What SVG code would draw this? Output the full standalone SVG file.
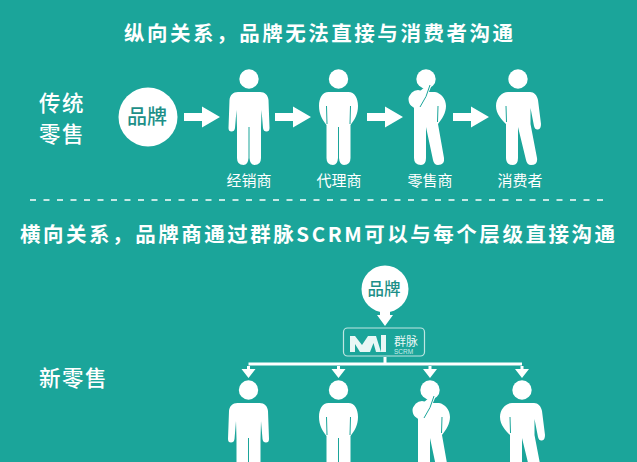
<svg xmlns="http://www.w3.org/2000/svg" width="637" height="462" viewBox="0 0 637 462">
<style>
text{font-family:"Noto Sans CJK SC","Liberation Sans",sans-serif}
.t{font-size:20.500px;font-weight:700;fill:#fff}
.s{font-size:21.500px;font-weight:500;fill:#fff;letter-spacing:1.500px}
.l{font-size:15px;fill:#fff}
.b{fill:#1d8f88;text-anchor:middle}
.w{fill:#fff}
.c{stroke:#fff;stroke-width:3;fill:none}
.slit{stroke:#1ba59a;stroke-width:1;fill:none}
</style>
<defs>
<g id="pA" class="w">
<circle cx="0" cy="79" r="9.700"/>
<path d="M-11 92H11C16 92 19 95 19.500 100L20.500 128Q20.500 131.500 17.500 131.500Q14.500 131.500 14 128L12.500 110L12 128V158Q12 165 5.500 165Q1 165 0.500 158V127H-0.500V158Q-1 165 -5.500 165Q-12 165 -12 158V128L-12.500 110L-14 128Q-14.500 131.500 -17.500 131.500Q-20.500 131.500 -20.500 128L-19.500 100C-19 95 -16 92 -11 92Z"/>
</g>
<g id="pB" class="w">
<circle cx="0" cy="79" r="9.700"/>
<path d="M-10 92H10C16 92 19.500 98 19.500 106C19.500 114 16 120 12 125V158Q12 165 5.500 165Q1 165 0.500 158V127H-0.500V158Q-1 165 -5.500 165Q-12 165 -12 158V125C-16 120 -19.500 114 -19.500 106C-19.500 98 -16 92 -10 92Z"/>
<path class="slit" d="M-12 106L-11.500 124M12 106L11.500 124"/>
</g>
<g id="pC" class="w">
<circle cx="0" cy="79" r="9.700"/>
<path d="M-8 92H9C15 93 20 99 20 106C20 113 16 119 12 124L18 158Q19 165 12 165Q8 165 7 160L0 127V158Q0 165 -5 165Q-12 165 -12 158V108C-12 107 -17.500 106 -17.500 99C-17.500 95 -12 92 -8 92Z"/>
<ellipse class="w" cx="-8" cy="99" rx="9" ry="9"/>
<path class="w" d="M-8 93L2 84L5 87L-3 106Z"/>
<path class="slit" d="M4 85Q1 97 -6 107M12 106L11.500 122"/>
</g>
<g id="pD" class="w">
<circle cx="0" cy="79" r="9.700"/>
<path d="M-10 92H12C16 92 19 95 20 100L23 124Q23 129 20 129.500Q17 130 16 126L12.500 108L12.500 124L19 158Q20 165 13 165Q9 165 8 160L0 127V158Q0 165 -5 165Q-12 165 -12 158V124C-16 120 -22 114 -22 106C-22 98 -16 92 -10 92Z"/>
<path class="slit" d="M-12 106L-11.500 122"/>
</g>
<path id="ar" class="w" d="M0 -4H18V-10.500L36 0L18 10.500V4H0Z"/>
<path id="da" class="w" d="M-1.500 0H1.500V3H7L0 12L-7 3H-1.500Z"/>
</defs>
<rect width="637" height="462" fill="#1ba59a"/>
<text class="t" x="124" y="41" textLength="389">纵向关系，品牌无法直接与消费者沟通</text>
<text class="s" x="39" y="111">传统</text>
<text class="s" x="39" y="142">零售</text>
<text class="t" x="20" y="242" textLength="595">横向关系，品牌商通过群脉SCRM可以与每个层级直接沟通</text>
<text class="s" x="39" y="386">新零售</text>
<g id="connectors">
<use href="#ar" x="184" y="117"/>
<use href="#ar" x="275" y="117"/>
<use href="#ar" x="367" y="117"/>
<use href="#ar" x="453" y="117"/>
<path d="M30 200H608" stroke="#fff" stroke-width="1.500" stroke-dasharray="6 7.500" fill="none"/>
<path class="w" d="M380 310H390V315H393L385 326L377 315H380Z"/>
<path class="c" d="M385 357V364M248.500 364H522"/>
<use href="#da" x="248.500" y="366"/>
<use href="#da" x="338.500" y="366"/>
<use href="#da" x="430" y="366"/>
<use href="#da" x="522" y="366"/>
</g>
<g id="brand1"><circle cx="148" cy="117" r="29.500" class="w"/><text class="b" x="147" y="124" font-size="20" font-weight="500">品牌</text></g>
<g id="brand2"><circle cx="385" cy="289" r="23.500" class="w"/><text class="b" x="384" y="295" font-size="16.500" font-weight="500">品牌</text></g>
<g id="mai">
<rect x="343.500" y="328" width="81" height="28" rx="4" fill="none" stroke="#bfe6e2" stroke-width="1.200"/>
<path d="M350 352V336H355L362 345L368 336H372L364 352H360L355 344V352Z M364 352L371 336H376L381 352H376L373.500 343L370 352Z M381 335H386V352H381Z" fill="#e8f7f5"/>
<text x="394" y="346" font-size="12" fill="#e8f7f5">群脉</text>
<text x="394" y="354" font-size="6.500" fill="#cdeeea" style="font-family:'Liberation Sans',sans-serif">SCRM</text>
</g>
<g id="r1a"><use href="#pA" x="249"/><text class="l" x="249" y="186" text-anchor="middle">经销商</text></g>
<g id="r1b"><use href="#pB" x="338.500"/><text class="l" x="339" y="186" text-anchor="middle">代理商</text></g>
<g id="r1c"><use href="#pC" x="426"/><text class="l" x="430" y="186" text-anchor="middle">零售商</text></g>
<g id="r1d"><use href="#pD" x="518"/><text class="l" x="520" y="186" text-anchor="middle">消费者</text></g>
<g id="r2a"><use href="#pA" x="248.500" y="311"/></g>
<g id="r2b"><use href="#pB" x="338.500" y="311"/></g>
<g id="r2c"><use href="#pC" x="430" y="311"/></g>
<g id="r2d"><use href="#pD" x="522" y="311"/></g>
</svg>
